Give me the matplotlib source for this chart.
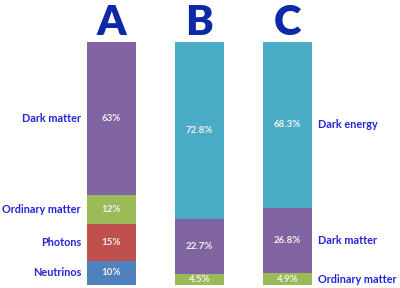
import matplotlib.pyplot as plt

# columns and their stacked shares (bottom to top), in percent
columns = ['A', 'B', 'C']
a_names = ['Neutrinos', 'Photons', 'Ordinary matter', 'Dark matter']
a_vals = [10, 15, 12, 63]
b_names = ['Ordinary matter', 'Dark matter', 'Dark energy']
b_vals = [4.5, 22.7, 72.8]
c_names = ['Ordinary matter', 'Dark matter', 'Dark energy']
c_vals = [4.9, 26.8, 68.3]
a_labels = ['10%', '15%', '12%', '63%']
b_labels = ['4.5%', '22.7%', '72.8%']
c_labels = ['4.9%', '26.8%', '68.3%']

colors = {
    'Neutrinos': '#4F81BD',
    'Photons': '#C0504D',
    'Ordinary matter': '#9BBB59',
    'Dark matter': '#8064A2',
    'Dark energy': '#4BACC6',
}

plt.rcParams['font.family'] = ['Lato', 'DejaVu Sans']

fig = plt.figure(figsize=(4, 2.88), dpi=100)
ax = fig.add_axes([0, 3 / 288, 1, 243 / 288])
ax.set_xlim(0, 400)
ax.set_ylim(0, 100)
ax.axis('off')

xpos = [111.5, 199.5, 287.5]
width = 49
stacks = [(a_names, a_vals, a_labels), (b_names, b_vals, b_labels), (c_names, c_vals, c_labels)]

for i, (names, vals, labels) in enumerate(stacks):
    bottom = 0
    for name, v, lab in zip(names, vals, labels):
        ax.bar(xpos[i], v, width, bottom=bottom, color=colors[name], edgecolor='none')
        ax.text(xpos[i], bottom + v / 2, lab, ha='center', va='center',
                color='#F2F2F2', fontsize=7, fontweight='bold')
        # side labels: left of A, right of C
        if i == 0:
            ax.text(xpos[i] - width / 2 - 6, bottom + v / 2, name, ha='right', va='center',
                    color='#2424D8', fontsize=7.8, fontweight='bold')
        elif i == 2:
            ax.text(xpos[i] + width / 2 + 6, bottom + v / 2, name, ha='left', va='center',
                    color='#2424D8', fontsize=7.8, fontweight='bold')
        bottom += v
    ax.text(xpos[i], 103, columns[i], ha='center', va='baseline', color='#0C2AA6',
            fontsize=30, fontweight='heavy', clip_on=False)

fig.savefig('out.png', dpi=100)
